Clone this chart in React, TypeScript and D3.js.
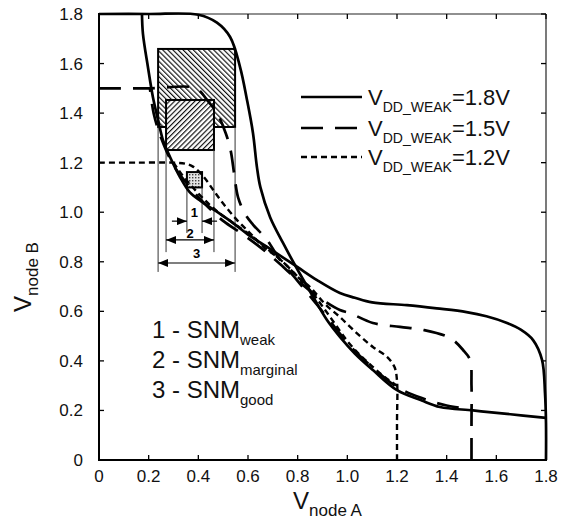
import React from "react";
import * as d3 from "d3";

// axis ticks
const tickValues = [0, 0.2, 0.4, 0.6, 0.8, 1.0, 1.2, 1.4, 1.6, 1.8];
const tickLabels = ["0", "0.2", "0.4", "0.6", "0.8", "1.0", "1.2", "1.4", "1.6", "1.8"];

// VDD_WEAK = 1.8V : V_B(V_A) and its mirror
const f18: [number, number][] = [
  [0, 1.8], [0.2, 1.8], [0.4, 1.797], [0.475, 1.765], [0.528, 1.707], [0.568, 1.586],
  [0.596, 1.453], [0.62, 1.32], [0.636, 1.182], [0.65, 1.1], [0.689, 0.98], [0.741, 0.876],
  [0.789, 0.787], [0.85, 0.68], [0.918, 0.565], [0.971, 0.496], [1.03, 0.43], [1.103, 0.363],
  [1.2, 0.282], [1.3, 0.24], [1.373, 0.214], [1.506, 0.2], [1.643, 0.186], [1.8, 0.17],
];
const g18: [number, number][] = [
  [1.8, 0], [1.8, 0.15], [1.796, 0.27], [1.784, 0.404], [1.748, 0.484], [1.7, 0.525],
  [1.643, 0.553], [1.56, 0.58], [1.48, 0.597], [1.36, 0.612], [1.24, 0.625], [1.1, 0.636],
  [1.03, 0.655], [0.97, 0.674], [0.878, 0.726], [0.797, 0.78], [0.677, 0.86], [0.6, 0.91],
  [0.54, 0.956], [0.47, 1.005], [0.41, 1.045], [0.366, 1.08], [0.326, 1.142], [0.286, 1.223],
  [0.258, 1.29], [0.238, 1.372], [0.217, 1.465], [0.197, 1.586], [0.177, 1.72], [0.173, 1.8],
];

// VDD_WEAK = 1.5V
const f15: [number, number][] = [
  [0, 1.5], [0.2, 1.5], [0.39, 1.5], [0.435, 1.453], [0.475, 1.4], [0.51, 1.32], [0.53, 1.25],
  [0.545, 1.15], [0.56, 1.06], [0.59, 0.99], [0.62, 0.95], [0.677, 0.888], [0.729, 0.807],
  [0.797, 0.726], [0.862, 0.646], [0.918, 0.577], [0.97, 0.51], [1.03, 0.44], [1.1, 0.375],
  [1.2, 0.295], [1.3, 0.25], [1.4, 0.22], [1.5, 0.205],
];
const g15: [number, number][] = [
  [1.5, 0], [1.5, 0.15], [1.5, 0.3], [1.494, 0.404], [1.466, 0.444], [1.414, 0.492],
  [1.305, 0.525], [1.212, 0.537], [1.103, 0.553], [1.01, 0.593], [0.97, 0.605], [0.88, 0.66],
  [0.8, 0.725], [0.73, 0.79], [0.66, 0.85], [0.58, 0.91], [0.5, 0.965], [0.44, 1.02],
  [0.375, 1.09], [0.3, 1.19], [0.25, 1.3], [0.22, 1.4], [0.205, 1.5],
];

// VDD_WEAK = 1.2V
const f12: [number, number][] = [
  [0, 1.2], [0.15, 1.2], [0.3, 1.2], [0.35, 1.195], [0.38, 1.183], [0.42, 1.145], [0.46, 1.09],
  [0.5, 1.035], [0.556, 0.968], [0.608, 0.916], [0.66, 0.862], [0.729, 0.81], [0.8, 0.74],
  [0.85, 0.685], [0.9, 0.62], [0.95, 0.55], [1.0, 0.48], [1.05, 0.425], [1.1, 0.378],
  [1.15, 0.335], [1.2, 0.3],
];
const g12: [number, number][] = [
  [1.2, 0], [1.2, 0.15], [1.2, 0.32], [1.19, 0.375], [1.16, 0.416], [1.103, 0.456], [1.04, 0.51],
  [0.97, 0.577], [0.91, 0.63], [0.85, 0.698], [0.81, 0.73], [0.74, 0.8], [0.68, 0.85],
  [0.62, 0.9], [0.55, 0.95], [0.48, 1.0], [0.425, 1.05], [0.378, 1.1], [0.335, 1.15], [0.3, 1.2],
];

const seriesLabels = ["=1.8V", "=1.5V", "=1.2V"];
const seriesCurves = [[f18, g18], [f15, g15], [f12, g12]];

// SNM squares (data units), 1 = weak, 2 = marginal, 3 = good
const snmIds = ["1", "2", "3"];
const snmX0 = [0.354, 0.27, 0.238];
const snmX1 = [0.415, 0.463, 0.548];
const snmY0 = [1.1, 1.251, 1.344];
const snmY1 = [1.162, 1.453, 1.659];
const snmGuideBottom = [0.916, 0.839, 0.759];
const snmArrowY = [0.964, 0.888, 0.795];
const snmLabelY = [0.981, 0.896, 0.815];
const snmNames = ["weak", "marginal", "good"];

const W = 570;
const H = 527;
const FONT = "'Liberation Sans', Arial, Helvetica, sans-serif";
const dashes = [null, "22,12", "6,4"];
const fills = ["url(#dots)", "url(#hatchB)", "url(#hatchA)"];

function strokeW(i: number) {
  return i === 2 ? 2.4 : 2.7;
}

export default function App() {
  const x = d3.scaleLinear().domain([0, 1.8]).range([99, 546]);
  const y = d3.scaleLinear().domain([0, 1.8]).range([460, 14]);
  const line = d3
    .line<[number, number]>()
    .x((d) => x(d[0]))
    .y((d) => y(d[1]))
    .curve(d3.curveCatmullRom.alpha(0.5));

  const order = [2, 1, 0]; // big square first

  return (
    <svg width={W} height={H} style={{ position: "absolute", left: 0, top: 0, background: "#fff" }} fontFamily={FONT}>
      <defs>
        <pattern id="hatchA" width="3.6" height="3.6" patternUnits="userSpaceOnUse" patternTransform="rotate(-45)">
          <rect width="3.6" height="3.6" fill="#fff" />
          <line x1="0.6" y1="0" x2="0.6" y2="3.6" stroke="#000" strokeWidth="1.1" />
        </pattern>
        <pattern id="hatchB" width="3.6" height="3.6" patternUnits="userSpaceOnUse" patternTransform="rotate(45)">
          <rect width="3.6" height="3.6" fill="#fff" />
          <line x1="0.6" y1="0" x2="0.6" y2="3.6" stroke="#000" strokeWidth="1.1" />
        </pattern>
        <pattern id="dots" width="3" height="3" patternUnits="userSpaceOnUse">
          <rect width="3" height="3" fill="#e4e4e4" />
          <rect width="1.4" height="1.4" fill="#444" />
        </pattern>
        <marker id="arr" viewBox="0 0 10 8" refX="10" refY="4" markerWidth="10" markerHeight="8" markerUnits="userSpaceOnUse" orient="auto-start-reverse">
          <path d="M0,0 L10,4 L0,8 Z" fill="#000" />
        </marker>
      </defs>

      {/* frame */}
      <line x1={x(0)} x2={x(1.8)} y1={y(1.8)} y2={y(1.8)} stroke="#222" strokeWidth={1.2} />
      <line x1={x(1.8)} x2={x(1.8)} y1={y(0)} y2={y(1.8)} stroke="#222" strokeWidth={1.2} />
      <line x1={x(0)} x2={x(0)} y1={y(0) + 1} y2={y(1.8) - 1} stroke="#000" strokeWidth={2} />
      <line x1={x(0) - 1} x2={x(1.8) + 1} y1={y(0)} y2={y(0)} stroke="#000" strokeWidth={2} />

      {tickValues.map((t, i) => (
        <g key={"t" + i}>
          <line x1={x(t)} x2={x(t)} y1={y(0)} y2={y(0) - 5} stroke="#000" strokeWidth={1.3} />
          <line x1={x(t)} x2={x(t)} y1={y(1.8)} y2={y(1.8) + 5} stroke="#000" strokeWidth={1.3} />
          <line x1={x(0)} x2={x(0) + 5} y1={y(t)} y2={y(t)} stroke="#000" strokeWidth={1.3} />
          <line x1={x(1.8)} x2={x(1.8) - 5} y1={y(t)} y2={y(t)} stroke="#000" strokeWidth={1.3} />
          <text x={x(t)} y={y(0) + 22} fontSize={17} textAnchor="middle" fill="#111">
            {tickLabels[i]}
          </text>
          <text x={x(0) - 16} y={y(t) + 6} fontSize={17} textAnchor="end" fill="#111">
            {tickLabels[i]}
          </text>
        </g>
      ))}

      {/* axis titles */}
      <text x={293} y={509} fontSize={24} fill="#111">
        V<tspan fontSize={17} dy={7}>node A</tspan>
      </text>
      <text transform="translate(31,312) rotate(-90)" fontSize={24} fill="#111">
        V<tspan fontSize={17} dy={7}>node B</tspan>
      </text>

      {/* SNM squares */}
      {order.map((i) => (
        <rect
          key={"sq" + i}
          x={x(snmX0[i])}
          y={y(snmY1[i])}
          width={x(snmX1[i]) - x(snmX0[i])}
          height={y(snmY0[i]) - y(snmY1[i])}
          fill={fills[i]}
          stroke="#000"
          strokeWidth={2}
        />
      ))}

      {/* guides, arrows, labels */}
      {order.map((i) => (
        <g key={"g" + i}>
          <line x1={x(snmX0[i])} x2={x(snmX0[i])} y1={y(snmY0[i])} y2={y(snmGuideBottom[i])} stroke="#333" strokeWidth={1} />
          <line x1={x(snmX1[i])} x2={x(snmX1[i])} y1={y(snmY0[i])} y2={y(snmGuideBottom[i])} stroke="#333" strokeWidth={1} />
          {i === 0 ? (
            <>
              <line x1={x(snmX0[i]) - 15} x2={x(snmX0[i])} y1={y(snmArrowY[i])} y2={y(snmArrowY[i])} stroke="#000" strokeWidth={1.2} markerEnd="url(#arr)" />
              <line x1={x(snmX1[i]) + 15} x2={x(snmX1[i])} y1={y(snmArrowY[i])} y2={y(snmArrowY[i])} stroke="#000" strokeWidth={1.2} markerEnd="url(#arr)" />
            </>
          ) : (
            <line x1={x(snmX0[i])} x2={x(snmX1[i])} y1={y(snmArrowY[i])} y2={y(snmArrowY[i])} stroke="#000" strokeWidth={1.2} markerStart="url(#arr)" markerEnd="url(#arr)" />
          )}
          <text x={(x(snmX0[i]) + x(snmX1[i])) / 2} y={y(snmLabelY[i])} fontSize={13} fontWeight="bold" textAnchor="middle">
            {snmIds[i]}
          </text>
        </g>
      ))}

      {/* curves */}
      {seriesCurves.map((pair, s) =>
        pair.map((c, k) => (
          <path
            key={"c" + s + k}
            d={line(c) || ""}
            fill="none"
            stroke="#000"
            strokeWidth={strokeW(s)}
            strokeDasharray={dashes[s] || undefined}
          />
        ))
      )}

      {/* legend */}
      {seriesLabels.map((lab, i) => {
        const by = [105, 136, 165][i];
        return (
          <g key={"lg" + i}>
            <line x1={301} x2={362} y1={by - 8} y2={by - 8} stroke="#000" strokeWidth={strokeW(i)} strokeDasharray={dashes[i] || undefined} />
            <text x={368} y={by} fontSize={22} fill="#111">
              V<tspan fontSize={14} dy={7}>DD_WEAK</tspan>
              <tspan dy={-7}>{lab}</tspan>
            </text>
          </g>
        );
      })}

      {/* SNM text block */}
      {snmNames.map((n, i) => (
        <text key={"sn" + i} x={152} y={338 + i * 30} fontSize={24} fill="#111">
          {snmIds[i]} - SNM<tspan fontSize={15} dy={7}>{n}</tspan>
        </text>
      ))}
    </svg>
  );
}
